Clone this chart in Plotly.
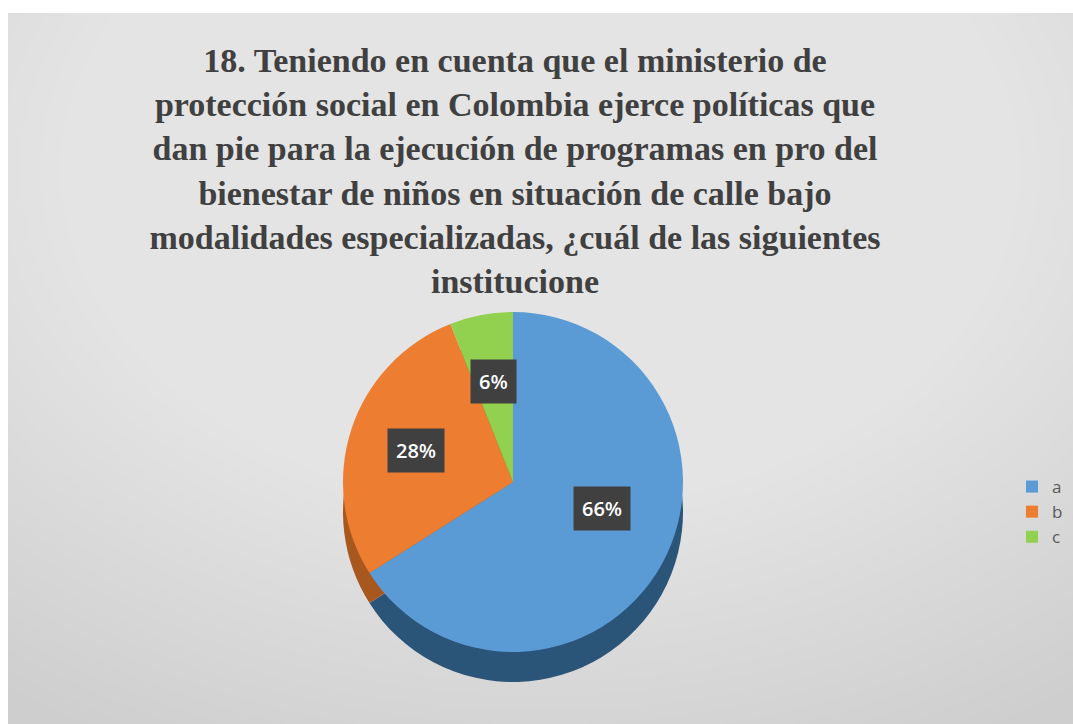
import numpy as np
import plotly.graph_objects as go

# ---- data ----
labels = ["a", "b", "c"]
values = [66, 28, 6]
top_colors = ["#5B9BD5", "#ED7D31", "#92D050"]
side_colors = ["#2B5479", "#A8571F", "#5F8A35"]
title_lines = [
    "18. Teniendo en cuenta que el ministerio de",
    "protección social en Colombia ejerce políticas que",
    "dan pie para la ejecución de programas en pro del",
    "bienestar de niños en situación de calle bajo",
    "modalidades especializadas, ¿cuál de las siguientes",
    "institucione",
]

W, H = 1073, 724
def px(x):
    return x / W
def py(y):
    return 1 - y / H

# pie geometry (pixels)
cx, cy, D, depth = 513, 482, 340, 30
R = D / 2

fig = go.Figure()

# side (depth) of the pie
fig.add_trace(go.Pie(
    labels=labels, values=values, sort=False, direction="clockwise", rotation=0,
    marker=dict(colors=side_colors, line=dict(width=0)),
    textinfo="none", hoverinfo="skip", showlegend=False,
    domain=dict(x=[px(cx - R), px(cx + R)], y=[py(cy + depth + R), py(cy + depth - R)]),
))
# top face
fig.add_trace(go.Pie(
    labels=labels, values=values, sort=False, direction="clockwise", rotation=0,
    marker=dict(colors=top_colors, line=dict(width=0)),
    textinfo="none", showlegend=True,
    domain=dict(x=[px(cx - R), px(cx + R)], y=[py(cy + R), py(cy - R)]),
))

# data labels in dark boxes
total = sum(values)
cum = 0
annotations = []
for lab, v in zip(labels, values):
    theta = 2 * np.pi * (cum + v / 2) / total
    cum += v
    r = 0.6 * R
    lx = cx + r * np.sin(theta)
    ly = cy - r * np.cos(theta)
    annotations.append(dict(
        x=px(lx), y=py(ly), xref="paper", yref="paper", showarrow=False,
        text=f"{v}%", font=dict(family="Open Sans", size=20, color="white", weight=600),
        bgcolor="#404040", borderpad=8,
    ))

# background: gray panel with soft radial highlight
shapes = [dict(type="rect", xref="paper", yref="paper", x0=0, x1=1, y0=0, y1=1,
               fillcolor="#cecece", line=dict(width=0), layer="below")]
N = 45
for k in range(N):
    f = 1 - k / N
    rx, ry = 900 * f, 640 * f
    gx, gy = 540, 170
    shapes.append(dict(type="circle", xref="paper", yref="paper",
                       x0=px(gx - rx), x1=px(gx + rx),
                       y0=py(gy + ry), y1=py(gy - ry),
                       fillcolor="rgba(255,255,255,0.035)", line=dict(width=0), layer="below"))
# white frame strips (top and left) as in the original picture
shapes.append(dict(type="rect", xref="paper", yref="paper", x0=0, x1=1, y0=py(13), y1=1,
                   fillcolor="white", line=dict(width=0), layer="below"))
shapes.append(dict(type="rect", xref="paper", yref="paper", x0=0, x1=px(8), y0=0, y1=1,
                   fillcolor="white", line=dict(width=0), layer="below"))

fig.update_layout(
    width=W, height=H,
    margin=dict(l=0, r=0, t=0, b=0),
    paper_bgcolor="white",
    plot_bgcolor="rgba(0,0,0,0)",
    title=dict(
        text="<br>".join(title_lines),
        x=px(515), xanchor="center", y=py(72), yanchor="top",
        font=dict(family="Liberation Serif", size=34, color="#404040", weight="bold"),
    ),
    legend=dict(x=px(1012), y=py(512), xanchor="left", yanchor="middle",
                font=dict(family="Open Sans", size=17, color="#595959"),
                bgcolor="rgba(0,0,0,0)"),
    annotations=annotations,
    shapes=shapes,
)

fig.write_html("out.html", config={"displayModeBar": False},
               post_script="document.body.style.margin='0';document.body.style.overflow='hidden';")
